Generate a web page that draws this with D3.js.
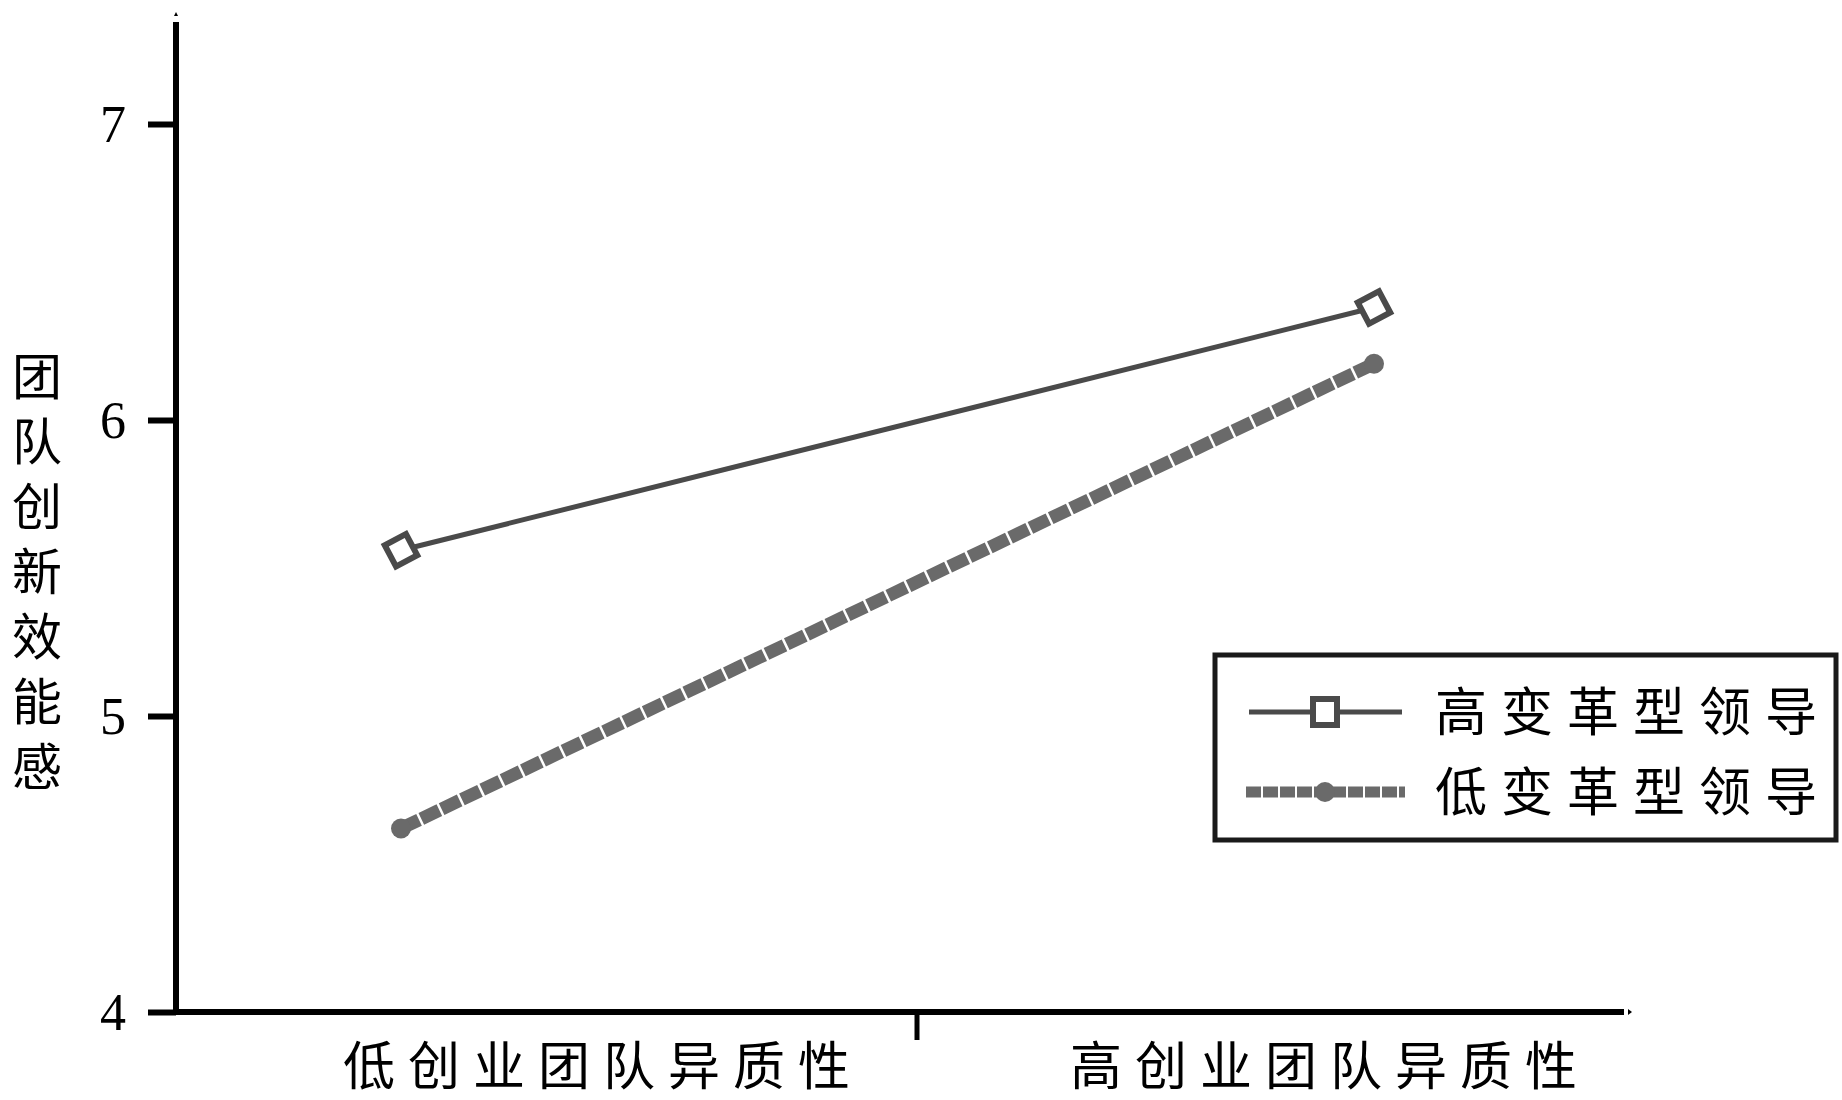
<!DOCTYPE html>
<html><head><meta charset="utf-8">
<script src="https://cdn.jsdelivr.net/npm/d3@7"></script>
<style>html,body{margin:0;padding:0;background:#fff;}</style>
</head><body>
<svg id="chart" width="1842" height="1100"></svg>
<script>
const categories = ["低创业团队异质性", "高创业团队异质性"];
const seriesNames = ["高变革型领导", "低变革型领导"];
const highValues = [5.56, 6.38];
const lowValues = [4.62, 6.19];
const yTicks = [4, 5, 6, 7];
const yTitle = "团队创新效能感";

const svg = d3.select("#chart");
const CJK = "'Noto Sans CJK SC', sans-serif";
const SERIF = "'Liberation Serif', 'DejaVu Serif', serif";

const y = d3.scaleLinear().domain([4, 7]).range([1012, 124]);
const x = d3.scalePoint().domain(categories).range([401, 1374]);

const axisX0 = 176, axisTop = 22, axisRight = 1624;

// y axis
const yAxis = d3.axisLeft(y).tickValues(yTicks).tickSize(28).tickPadding(22).tickFormat(d3.format("d"));
const gy = svg.append("g").attr("transform", `translate(${axisX0},0)`).call(yAxis);
gy.select(".domain").remove();
gy.selectAll(".tick line").attr("stroke", "#000").attr("stroke-width", 6);
gy.selectAll(".tick text").attr("font-family", SERIF).attr("font-size", 52).attr("fill", "#000").attr("dy", "0.34em");
svg.append("line").attr("x1", axisX0).attr("x2", axisX0).attr("y1", axisTop).attr("y2", y(4) + 3)
  .attr("stroke", "#000").attr("stroke-width", 6);
svg.append("path").attr("d", `M${axisX0-2},${axisTop-6} L${axisX0+2},${axisTop-6} L${axisX0},${axisTop-10}Z`).attr("fill", "#000");

// x axis
svg.append("line").attr("x1", axisX0 - 3).attr("x2", axisRight).attr("y1", y(4)).attr("y2", y(4))
  .attr("stroke", "#000").attr("stroke-width", 6);
svg.append("path").attr("d", `M${axisRight+4},${y(4)-3} L${axisRight+4},${y(4)+3} L${axisRight+8},${y(4)}Z`).attr("fill", "#000");
svg.append("line").attr("x1", 917).attr("x2", 917).attr("y1", y(4)).attr("y2", 1040)
  .attr("stroke", "#000").attr("stroke-width", 5);

const labelCenters = [597, 1324];
categories.forEach((c, i) => {
  svg.append("text").attr("x", labelCenters[i] + 6).attr("y", 1066).attr("dy", "0.36em")
    .attr("text-anchor", "middle").attr("font-family", CJK).attr("font-size", 52)
    .attr("letter-spacing", 13).attr("fill", "#000").text(c);
});

// y title (vertical)
svg.append("text").attr("x", 37).attr("y", 578)
  .attr("writing-mode", "vertical-rl").attr("text-anchor", "middle")
  .attr("font-family", CJK).attr("font-size", 50).attr("letter-spacing", 15)
  .attr("fill", "#000").text(yTitle);

// low series
const lowColor = "#6a6a6a";
const lowData = categories.map((c, i) => [x(c), y(lowValues[i])]);
svg.append("path").attr("d", d3.line()(lowData)).attr("fill", "none")
  .attr("stroke", lowColor).attr("stroke-width", 13).attr("stroke-dasharray", "20,2.5");
svg.selectAll(".lowpt").data(lowData).enter().append("circle")
  .attr("cx", d => d[0]).attr("cy", d => d[1]).attr("r", 10).attr("fill", lowColor);

// high series
const highColor = "#4a4a4a";
const highData = categories.map((c, i) => [x(c), y(highValues[i])]);
svg.append("path").attr("d", d3.line()(highData)).attr("fill", "none")
  .attr("stroke", highColor).attr("stroke-width", 5);
svg.selectAll(".highpt").data(highData).enter().append("rect")
  .attr("x", -12).attr("y", -12).attr("width", 24).attr("height", 24)
  .attr("transform", d => `translate(${d[0]},${d[1]}) rotate(-28)`)
  .attr("fill", "#fff").attr("stroke", highColor).attr("stroke-width", 6);

// legend
svg.append("rect").attr("x", 1215).attr("y", 655).attr("width", 621).attr("height", 185)
  .attr("fill", "#fff").attr("stroke", "#1a1a1a").attr("stroke-width", 5);
const ly = [712, 792];
svg.append("line").attr("x1", 1249).attr("x2", 1402).attr("y1", ly[0]).attr("y2", ly[0])
  .attr("stroke", highColor).attr("stroke-width", 5);
svg.append("rect").attr("x", 1313).attr("y", ly[0] - 13).attr("width", 24).attr("height", 26)
  .attr("fill", "#fff").attr("stroke", highColor).attr("stroke-width", 6);
svg.append("line").attr("x1", 1246).attr("x2", 1405).attr("y1", ly[1]).attr("y2", ly[1])
  .attr("stroke", lowColor).attr("stroke-width", 11).attr("stroke-dasharray", "15,2");
svg.append("circle").attr("cx", 1325).attr("cy", ly[1]).attr("r", 10).attr("fill", lowColor);
seriesNames.forEach((s, i) => {
  svg.append("text").attr("x", 1435).attr("y", ly[i]).attr("dy", "0.36em")
    .attr("font-family", CJK).attr("font-size", 52).attr("letter-spacing", 14)
    .attr("fill", "#000").text(s);
});
</script>
</body></html>
